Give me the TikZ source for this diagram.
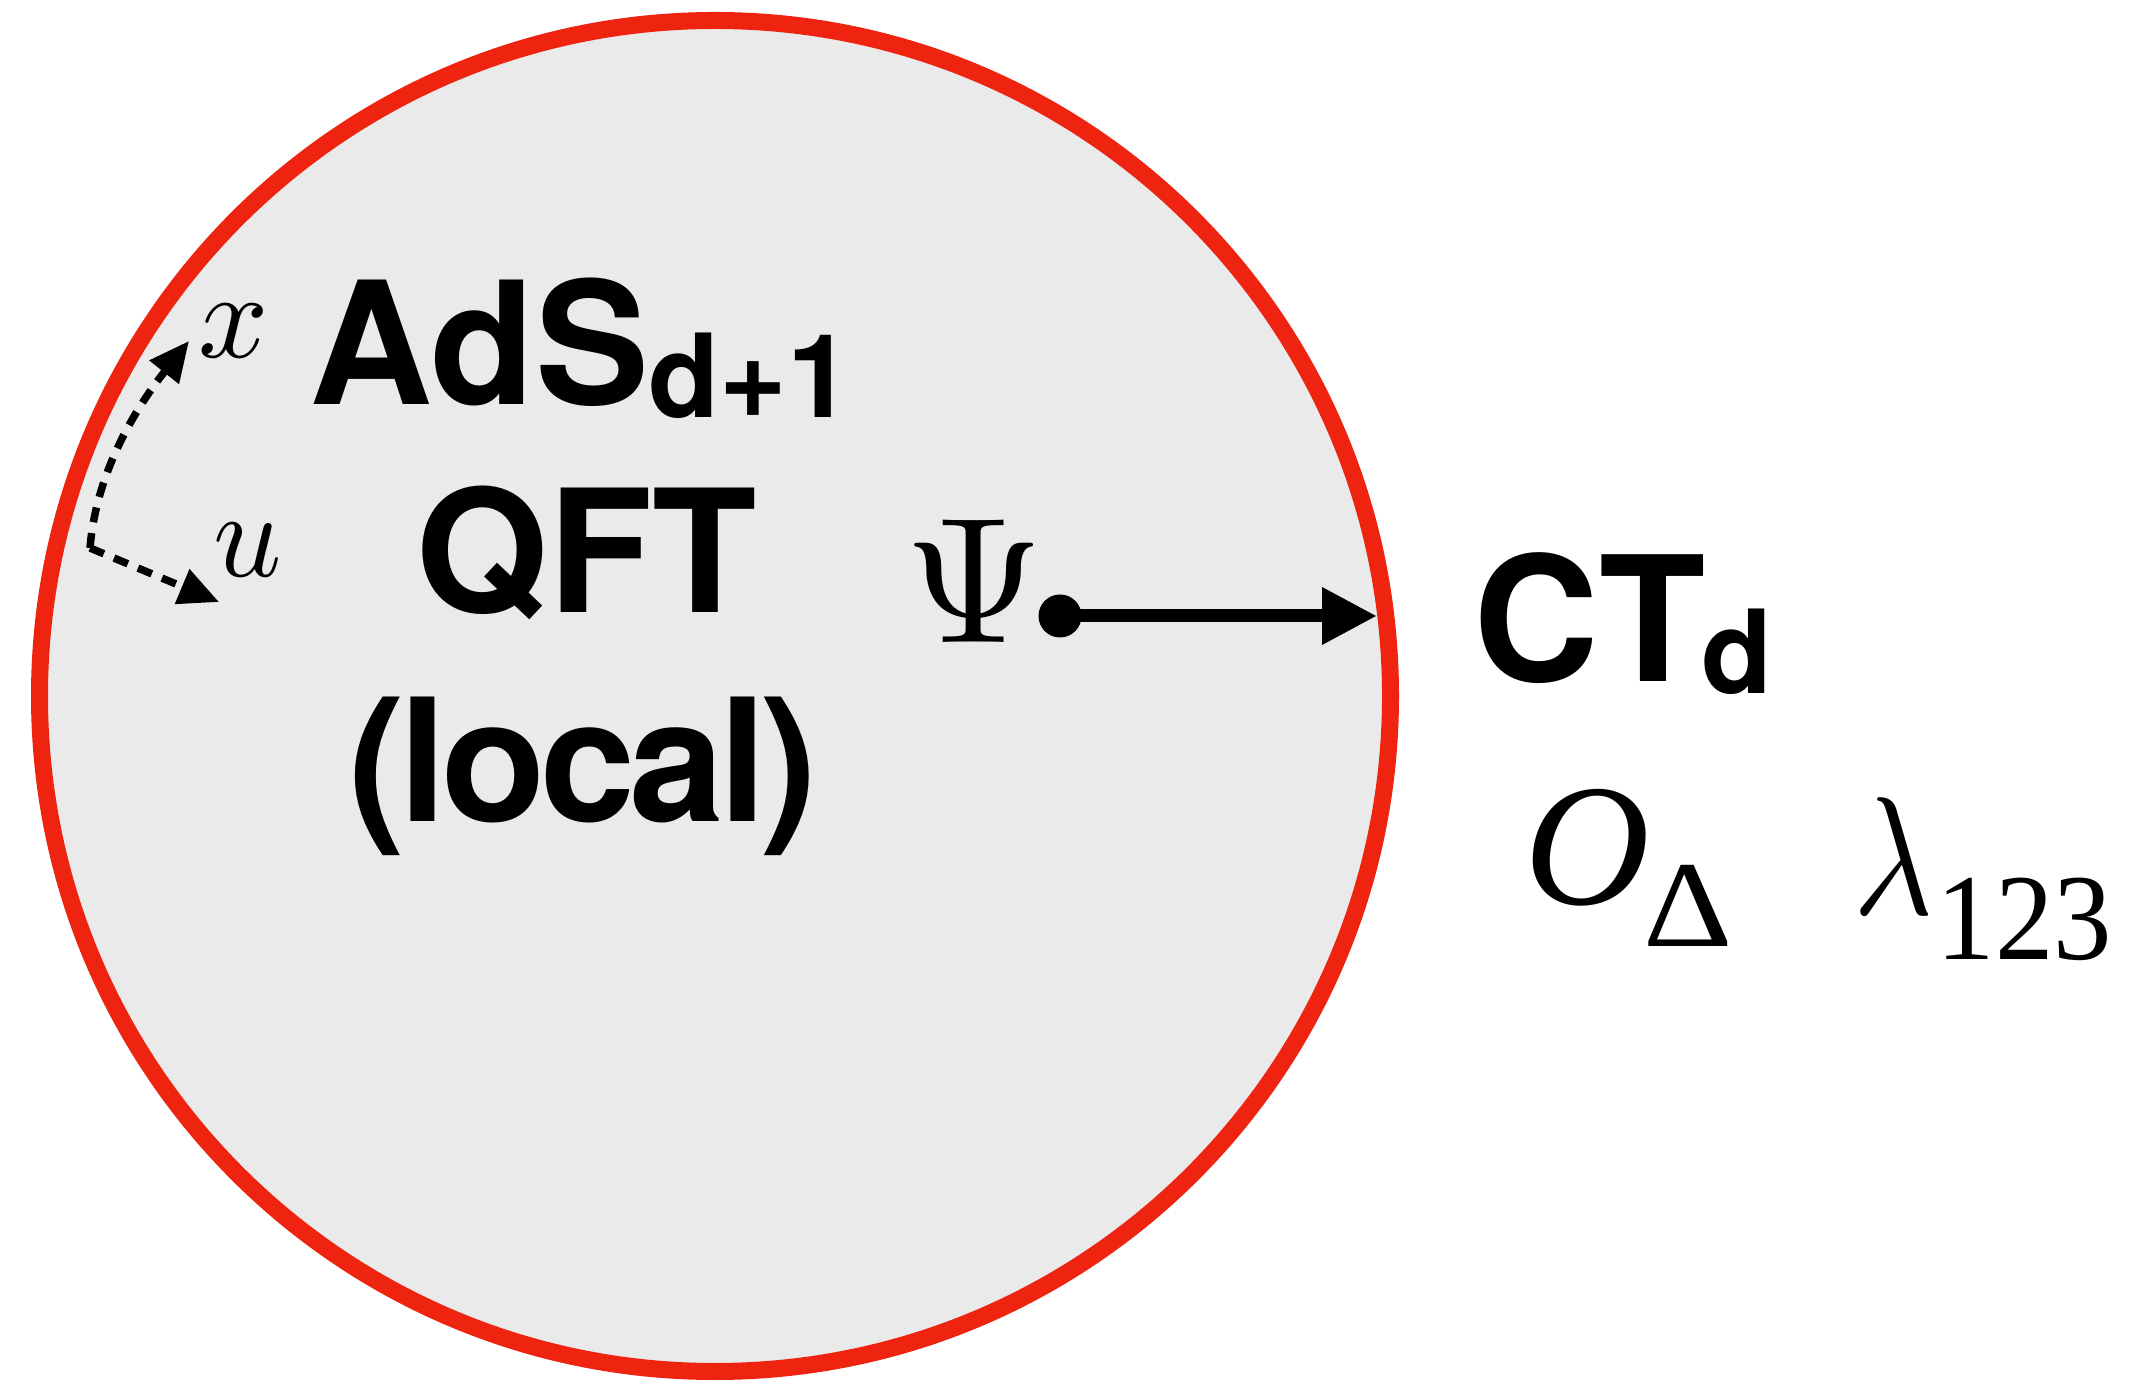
\documentclass[tikz,border=0pt]{standalone}
\usepackage{fontspec}
\setsansfont{TeX Gyre Heros}
\newfontfamily\timesf{Liberation Serif}
\usetikzlibrary{arrows.meta}
\definecolor{discfill}{HTML}{EAEAEA}
\definecolor{rimred}{HTML}{EE2310}
\tikzset{
  boldlabel/.style={font=\sffamily\bfseries\fontsize{48.6}{48.6}\selectfont, inner sep=0, anchor=base},
  axisname/.style={inner sep=0, anchor=base west},
  axisline/.style={line width=0.075cm, dash pattern=on 0.15cm off 0.11cm,
    -{Triangle[length=0.4cm,width=0.36cm]}},
  flowline/.style={line width=0.13cm, -{Triangle[length=0.55cm,width=0.54cm]}},
}
\begin{document}
\begin{tikzpicture}
\useasboundingbox (0,0) rectangle (21.31,13.80);
% the bulk disc
\draw[rimred, fill=discfill, line width=0.17cm] (7.15,6.84) circle (6.755);

% bulk labels
\node[boldlabel] (ads) at (5.81,9.75)
  {AdS\raisebox{-0.13cm}{\fontsize{33}{33}\selectfont d+1}};
\node[boldlabel] (qft) at (5.865,7.67) {QFT};
\node[boldlabel] (local) at (5.83,5.58) {\addfontfeature{LetterSpace=-3.3}(local)};

% coordinate axes near the boundary
\coordinate (corner) at (0.90,8.32);
\coordinate (xtip) at (1.89,10.39);
\coordinate (utip) at (2.19,7.78);
\draw[axisline] (corner) .. controls (0.97,9.2) and (1.5,9.9) .. (xtip);
\draw[axisline] (corner) -- (utip);
\node[axisname] (xl) at (1.98,10.22) {\scalebox{3.5}{$x$}};
\node[axisname] (ul) at (2.13,8.03) {\scalebox{3.4}[3.5]{$u$}};

% bulk field pushed to the boundary
\node[inner sep=0, anchor=base] (psi) at (9.74,7.37) {\scalebox{5.1}{$\Psi$}};
\node[circle, fill=black, inner sep=0, minimum size=0.43cm] (dot) at (10.60,7.64) {};
\coordinate (tip) at (13.77,7.64);
\draw[flowline] (dot.center) -- (tip);

% boundary theory data
\node[font=\sffamily\bfseries\fontsize{49.5}{49.5}\selectfont, inner sep=0, anchor=base west] (cft) at (14.73,6.98)
  {CT\hspace{-0.04cm}\raisebox{-0.12cm}{\fontsize{33}{33}\selectfont d}};
\node[font=\timesf, inner sep=0, anchor=base west] (op) at (15.24,4.75)
  {{\fontsize{49.5}{49.5}\selectfont\itshape O}\hspace{-0.07cm}\raisebox{-0.42cm}{\scalebox{1.13}[1]{\fontsize{35}{35}\selectfont Δ}}};
\node[inner sep=0, anchor=base west] (lam) at (18.53,4.65)
  {\scalebox{3.9}[4.79]{$\lambda$}\hspace{0.03cm}\raisebox{-0.45cm}{\scalebox{0.95}[1]{\timesf\fontsize{35}{35}\selectfont 123}}};
\end{tikzpicture}
\end{document}
